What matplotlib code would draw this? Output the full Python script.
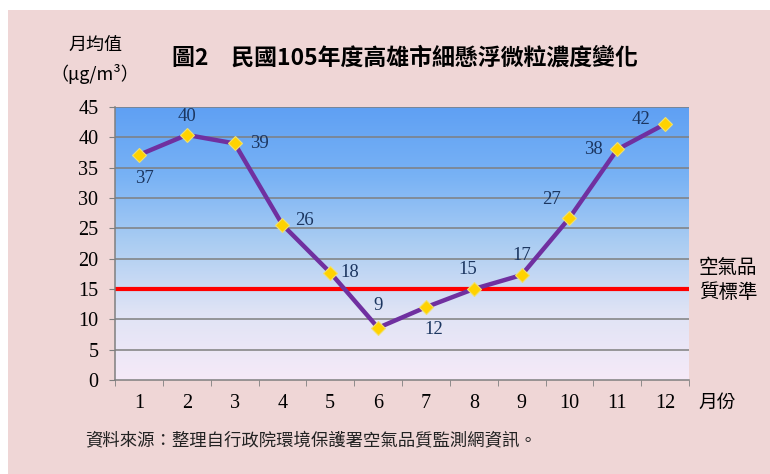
import numpy as np
import matplotlib.pyplot as plt
from matplotlib.patches import Rectangle
from matplotlib.colors import LinearSegmentedColormap

months = [1, 2, 3, 4, 5, 6, 7, 8, 9, 10, 11, 12]
pm25 = [37.1, 40.4, 39.0, 25.6, 17.7, 8.6, 12.0, 15.0, 17.3, 26.7, 38.0, 42.2]
labels = ['37', '40', '39', '26', '18', '9', '12', '15', '17', '27', '38', '42']
standard = 15
yticks = [0, 5, 10, 15, 20, 25, 30, 35, 40, 45]

# label offsets (points) per month
offsets = [(4, -17), (0, 13), (18, 0), (16, 3), (14, 0), (0, 16),
           (6, -16), (-4, 14), (0, 14), (-13, 13), (-17, 0), (-17, 3)]

cjk = ['Noto Sans CJK TC', 'DejaVu Sans']
num = 'Liberation Serif'
navy = '#1c3660'

fig = plt.figure(figsize=(7.7, 4.74), dpi=100)
fig.patch.set_facecolor('white')
fig.patches.append(Rectangle((8 / 770, 0), 1, 1 - 10 / 474, transform=fig.transFigure,
                             facecolor='#efd6d6', edgecolor='none', zorder=-10))

ax = fig.add_axes([115 / 770, 1 - 380 / 474, 574 / 770, 273 / 474])
ax.set_xlim(0.5, 12.5)
ax.set_ylim(0, 45)

# gradient background
cmap = LinearSegmentedColormap.from_list('bg', ['#f6eaf8', '#dfe3f5', '#abcdf2', '#78b2f5', '#5fa0f3'])
grad = np.linspace(0, 1, 256).reshape(-1, 1)
ax.imshow(grad, cmap=cmap, aspect='auto', extent=(0.5, 12.5, 0, 45), origin='lower', zorder=0)

for y in yticks[1:]:
    ax.axhline(y, color='#7f7f7f', lw=1.1, zorder=1)

ax.axhline(standard, color='#ff0000', lw=3, zorder=2)
ax.plot(months, pm25, color='#7030a0', lw=3.2, zorder=3)
ax.plot(months, pm25, ls='none', marker='D', ms=7.5, mfc='#ffd200', mec='#f0e070', mew=0.8, zorder=4)

for m, v, t, (dx, dy) in zip(months, pm25, labels, offsets):
    ax.annotate(t, (m, v), xytext=(dx, dy), textcoords='offset points', ha='center', va='center',
                fontsize=13.5, family=num, color=navy, zorder=5)

for s in ['top', 'right']:
    ax.spines[s].set_visible(False)
for s in ['left', 'bottom']:
    ax.spines[s].set_color('#7f7f7f')
    ax.spines[s].set_linewidth(1.1)

ax.set_yticks(yticks)
ax.set_yticklabels([str(y) for y in yticks], family=num, fontsize=14.5)
ax.set_xticks(months)
ax.set_xticklabels([str(m) for m in months], family=num, fontsize=14.5)
ax.set_xticks(np.arange(0.5, 13, 1), minor=True)
ax.tick_params(axis='x', which='major', length=0, pad=10)
ax.tick_params(axis='x', which='minor', length=4, color='#7f7f7f', direction='out')
ax.tick_params(axis='y', length=4, color='#7f7f7f', pad=8)

fig.text(95 / 770, 1 - 45 / 474, '月均值', family=cjk, fontsize=13, ha='center', va='center')
fig.text(95 / 770, 1 - 74 / 474, '（μg/m³）', family=['Noto Sans CJK TC', num], fontsize=13,
         ha='center', va='center')
fig.text(405 / 770, 1 - 58 / 474, '圖2　民國105年度高雄市細懸浮微粒濃度變化', family=cjk,
         fontsize=16.5, fontweight='bold', ha='center', va='center')
fig.text(728 / 770, 1 - 280 / 474, '空氣品\n質標準', family=cjk, fontsize=14,
         ha='center', va='center', linespacing=1.3)
fig.text(717 / 770, 1 - 402 / 474, '月份', family=cjk, fontsize=13.5, ha='center', va='center')
fig.text(85 / 770, 1 - 441 / 474, '資料來源：整理自行政院環境保護署空氣品質監測網資訊。', family=cjk,
         fontsize=12.5, ha='left', va='center', color='#222222')

fig.savefig('out.png', dpi=100, facecolor=fig.get_facecolor())
